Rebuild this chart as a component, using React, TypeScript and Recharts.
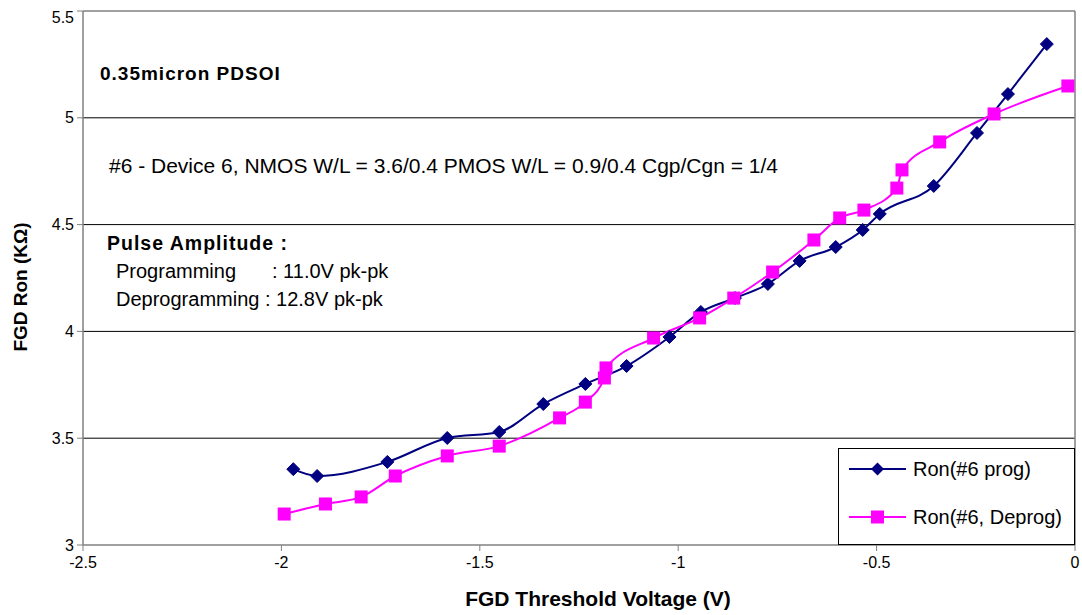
import React from 'react';
import { LineChart, Line, XAxis, YAxis, ReferenceLine, Legend } from 'recharts';

const progX = [-1.970, -1.910, -1.733, -1.582, -1.451, -1.340, -1.234, -1.130, -1.022, -0.943, -0.857, -0.774, -0.694, -0.603, -0.535, -0.492, -0.356, -0.247, -0.169, -0.071];
const progY = [3.355, 3.323, 3.389, 3.501, 3.529, 3.660, 3.754, 3.838, 3.974, 4.091, 4.156, 4.222, 4.330, 4.395, 4.475, 4.550, 4.681, 4.929, 5.111, 5.345];

const deprogX = [-1.993, -1.889, -1.799, -1.713, -1.582, -1.451, -1.299, -1.234, -1.186, -1.182, -1.062, -0.946, -0.860, -0.762, -0.658, -0.593, -0.532, -0.449, -0.436, -0.341, -0.204, -0.018];
const deprogY = [3.145, 3.192, 3.225, 3.323, 3.417, 3.463, 3.595, 3.669, 3.782, 3.829, 3.969, 4.063, 4.156, 4.278, 4.428, 4.531, 4.568, 4.671, 4.756, 4.887, 5.018, 5.149];

const xTicks = [-2.5, -2, -1.5, -1, -0.5, 0];
const yTicks = [3, 3.5, 4, 4.5, 5, 5.5];
const gridValues = [3.5, 4, 4.5, 5];

const progName = 'Ron(#6 prog)';
const deprogName = 'Ron(#6, Deprog)';

const progData = progX.map((x, i) => ({ x, y: progY[i] }));
const deprogData = deprogX.map((x, i) => ({ x, y: deprogY[i] }));

const NAVY = '#000080';
const MAGENTA = '#FF00FF';
const FONT = '"Liberation Sans", Arial, sans-serif';

const Diamond = (props: any) => {
  const { cx, cy, index } = props;
  if (cx == null || cy == null) return <g key={`d${index}`} />;
  const r = 6.5;
  return (
    <polygon
      key={`d${index}`}
      points={`${cx},${cy - r} ${cx + r},${cy} ${cx},${cy + r} ${cx - r},${cy}`}
      fill={NAVY}
      stroke={NAVY}
    />
  );
};

const Square = (props: any) => {
  const { cx, cy, index } = props;
  if (cx == null || cy == null) return <g key={`s${index}`} />;
  const s = 13;
  return <rect key={`s${index}`} x={cx - s / 2} y={cy - s / 2} width={s} height={s} fill={MAGENTA} />;
};

const LegendContent = () => (
  <div
    style={{
      width: 237,
      height: 97,
      border: '1px solid #000',
      background: '#fff',
      boxSizing: 'border-box',
      fontFamily: FONT,
      position: 'relative',
    }}
  >
    <svg width={237} height={97} style={{ position: 'absolute', left: 0, top: 0 }}>
      <line x1={10} x2={67} y1={20} y2={20} stroke={NAVY} strokeWidth={2} />
      <polygon points="38.5,13.5 45,20 38.5,26.5 32,20" fill={NAVY} />
      <text x={74} y={20} dominantBaseline="central" fontSize={20} fontFamily={FONT} fill="#000">
        {progName}
      </text>
      <line x1={10} x2={67} y1={68} y2={68} stroke={MAGENTA} strokeWidth={2} />
      <rect x={32} y={61.5} width={13} height={13} fill={MAGENTA} />
      <text x={74} y={68} dominantBaseline="central" fontSize={20} fontFamily={FONT} fill="#000">
        {deprogName}
      </text>
    </svg>
  </div>
);

export default function App() {
  return (
    <div style={{ position: 'relative', width: 1082, height: 615, background: '#fff', overflow: 'hidden' }}>
      <style>{'html,body{margin:0;padding:0;overflow:hidden;}'}</style>
      <div style={{ position: 'absolute', left: 8, top: 8, width: 1074, height: 607 }}>
        <LineChart
          width={1074}
          height={607}
          margin={{ top: 3, right: 7, bottom: 40, left: 30 }}
          style={{ fontFamily: FONT }}
        >
          <XAxis
            dataKey="x"
            type="number"
            domain={[-2.5, 0]}
            ticks={xTicks}
            allowDuplicatedCategory={false}
            axisLine={{ stroke: '#808080', strokeWidth: 1.5 }}
            tickLine={{ stroke: '#808080' }}
            tickSize={6}
            tickMargin={6}
            height={30}
            tick={{ fill: '#000', fontSize: 16, fontFamily: FONT }}
          />
          <YAxis
            dataKey="y"
            type="number"
            domain={[3, 5.5]}
            ticks={yTicks}
            axisLine={{ stroke: '#808080', strokeWidth: 1.5 }}
            tickLine={{ stroke: '#808080' }}
            tickSize={6}
            tickMargin={3}
            width={45}
            tick={{ fill: '#000', fontSize: 16, fontFamily: FONT }}
          />
          {gridValues.map((v) => (
            <ReferenceLine key={`g${v}`} y={v} stroke="#000" strokeWidth={1} />
          ))}
          <ReferenceLine y={5.5} stroke="#808080" strokeWidth={1.5} />
          <ReferenceLine x={0} stroke="#808080" strokeWidth={1.5} />
          <Line
            data={progData}
            dataKey="y"
            name={progName}
            type="monotone"
            stroke={NAVY}
            strokeWidth={2}
            dot={Diamond}
            activeDot={false}
            isAnimationActive={false}
          />
          <Line
            data={deprogData}
            dataKey="y"
            name={deprogName}
            type="monotone"
            stroke={MAGENTA}
            strokeWidth={2}
            dot={Square}
            activeDot={false}
            isAnimationActive={false}
          />
          <Legend
            layout="horizontal"
            verticalAlign="middle"
            align="center"
            content={LegendContent}
            wrapperStyle={{ position: 'absolute', left: 830, top: 440, width: 237, height: 97 }}
          />
        </LineChart>
        <svg
          width={1074}
          height={607}
          style={{ position: 'absolute', left: 0, top: 0, pointerEvents: 'none' }}
          fontFamily={FONT}
        >
          <text x={92} y={72} fontSize={19} fontWeight="bold" letterSpacing={1} fill="#000">
            0.35micron PDSOI
          </text>
          <text x={101} y={165} fontSize={21} fill="#000">
            #6 - Device 6, NMOS W/L = 3.6/0.4 PMOS W/L = 0.9/0.4 Cgp/Cgn = 1/4
          </text>
          <text x={99} y={242} fontSize={19.5} fontWeight="bold" letterSpacing={1} fill="#000">
            Pulse Amplitude :
          </text>
          <text x={108} y={270} fontSize={20} fill="#000">Programming</text>
          <text x={264} y={270} fontSize={20} fill="#000">: 11.0V pk-pk</text>
          <text x={108} y={298} fontSize={20} fill="#000">Deprogramming : 12.8V pk-pk</text>
          <text x={590} y={598} fontSize={21} fontWeight="bold" textAnchor="middle" fill="#000">
            FGD Threshold Voltage (V)
          </text>
          <text
            x={12}
            y={279}
            fontSize={19}
            fontWeight="bold"
            textAnchor="middle"
            dominantBaseline="central"
            transform="rotate(-90 12 279)"
            fill="#000"
          >
            FGD Ron (KΩ)
          </text>
        </svg>
      </div>
    </div>
  );
}
